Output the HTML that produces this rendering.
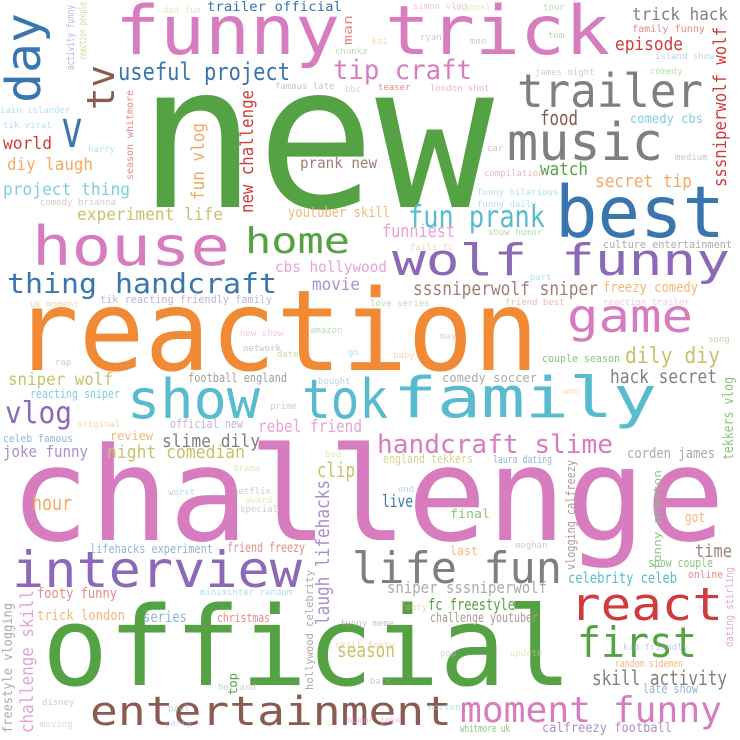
<!DOCTYPE html>
<html><head><meta charset="utf-8">
<style>
html,body{margin:0;padding:0;background:#fff;}
svg{display:block;}
text{font-family:"DejaVu Sans Mono","Liberation Mono",monospace;}
</style></head>
<body>
<svg width="740" height="740" viewBox="0 0 740 740">
<rect width="740" height="740" fill="#fff"/>
<g>
<!-- large words -->
<text x="138" y="207" font-size="200" fill="#55a244" textLength="356" lengthAdjust="spacingAndGlyphs">new</text>
<text x="10" y="540" font-size="130" fill="#d77dbf" textLength="715" lengthAdjust="spacingAndGlyphs">challenge</text>
<text x="42" y="685" font-size="110" fill="#55a244" textLength="530" lengthAdjust="spacingAndGlyphs">official</text>
<text x="13" y="370" font-size="112" fill="#f08a35" textLength="526" lengthAdjust="spacingAndGlyphs">reaction</text>
<text x="115" y="54" font-size="68" fill="#d77dbf" textLength="495" lengthAdjust="spacingAndGlyphs">funny trick</text>
<text x="555" y="237" font-size="71" fill="#3a75b0" textLength="170" lengthAdjust="spacingAndGlyphs">best</text>
<text x="393" y="417" font-size="56" fill="#58bbd0" textLength="264" lengthAdjust="spacingAndGlyphs">family</text>
<text x="32" y="265" font-size="54" fill="#d77dbf" textLength="198" lengthAdjust="spacingAndGlyphs">house</text>
<text x="392" y="275" font-size="44" fill="#8c68b8" textLength="338" lengthAdjust="spacingAndGlyphs">wolf funny</text>
<text x="127" y="418" font-size="54" fill="#58bbd0" textLength="133" lengthAdjust="spacingAndGlyphs">show</text>
<text x="302" y="418" font-size="54" fill="#58bbd0" textLength="86" lengthAdjust="spacingAndGlyphs">tok</text>
<text x="12" y="587" font-size="50" fill="#8c68b8" textLength="290" lengthAdjust="spacingAndGlyphs">interview</text>
<text x="570" y="620" font-size="45" fill="#d13b3b" textLength="153" lengthAdjust="spacingAndGlyphs">react</text>
<text x="90" y="725" font-size="40" fill="#8b5a50" textLength="362" lengthAdjust="spacingAndGlyphs">entertainment</text>
<text x="507" y="160" font-size="52" fill="#7f7f7f" textLength="156" lengthAdjust="spacingAndGlyphs">music</text>
<text x="517" y="107" font-size="46" fill="#7f7f7f" textLength="186" lengthAdjust="spacingAndGlyphs">trailer</text>
<text x="245" y="253" font-size="36" fill="#55a244" textLength="105" lengthAdjust="spacingAndGlyphs">home</text>
<text x="567" y="332" font-size="46" fill="#d77dbf" textLength="126" lengthAdjust="spacingAndGlyphs">game</text>
<text x="352" y="583" font-size="44" fill="#7f7f7f" textLength="210" lengthAdjust="spacingAndGlyphs">life fun</text>
<text x="577" y="657" font-size="42" fill="#55a244" textLength="120" lengthAdjust="spacingAndGlyphs">first</text>
<text x="460" y="722" font-size="36" fill="#d77dbf" textLength="262" lengthAdjust="spacingAndGlyphs">moment funny</text>
<text x="7" y="293" font-size="28" fill="#3a75b0" textLength="270" lengthAdjust="spacingAndGlyphs">thing handcraft</text>
<text x="377" y="453" font-size="26" fill="#d77dbf" textLength="236" lengthAdjust="spacingAndGlyphs">handcraft slime</text>
<text x="333" y="79" font-size="27" fill="#d77dbf" textLength="139" lengthAdjust="spacingAndGlyphs">tip craft</text>
<text x="118" y="80" font-size="24" fill="#3a75b0" textLength="172" lengthAdjust="spacingAndGlyphs">useful project</text>
<text x="408" y="227" font-size="30" fill="#58bbd0" textLength="137" lengthAdjust="spacingAndGlyphs">fun prank</text>
<text x="5" y="423" font-size="30" fill="#8c68b8" textLength="67" lengthAdjust="spacingAndGlyphs">vlog</text>
<text x="625" y="363" font-size="22" fill="#c5c36c" textLength="95" lengthAdjust="spacingAndGlyphs">dily diy</text>
<text x="8" y="385" font-size="17" fill="#c5c36c" textLength="105" lengthAdjust="spacingAndGlyphs">sniper wolf</text>
<text x="615" y="50" font-size="18" fill="#d13b3b" textLength="68" lengthAdjust="spacingAndGlyphs">episode</text>
<text x="632" y="20" font-size="17" fill="#7f7f7f" textLength="96" lengthAdjust="spacingAndGlyphs">trick hack</text>
<text x="77" y="220" font-size="17" fill="#c5c36c" textLength="146" lengthAdjust="spacingAndGlyphs">experiment life</text>
<text x="3" y="149" font-size="17" fill="#d13b3b" textLength="49" lengthAdjust="spacingAndGlyphs">world</text>
<text x="7" y="170" font-size="17" fill="#f4a866" textLength="86" lengthAdjust="spacingAndGlyphs">diy laugh</text>
<text x="3" y="195" font-size="17" fill="#7fcde0" textLength="127" lengthAdjust="spacingAndGlyphs">project thing</text>
<text x="300" y="168" font-size="15" fill="#9e7f78" textLength="77" lengthAdjust="spacingAndGlyphs">prank new</text>
<text x="288" y="217" font-size="14" fill="#f6b77a" textLength="102" lengthAdjust="spacingAndGlyphs">youtuber skill</text>
<text x="275" y="272" font-size="15" fill="#e6a3d4" textLength="112" lengthAdjust="spacingAndGlyphs">cbs hollywood</text>
<text x="312" y="290" font-size="17" fill="#a98fcc" textLength="48" lengthAdjust="spacingAndGlyphs">movie</text>
<text x="540" y="125" font-size="20" fill="#8b5a50" textLength="38" lengthAdjust="spacingAndGlyphs">food</text>
<text x="630" y="123" font-size="13" fill="#7fcde0" textLength="73" lengthAdjust="spacingAndGlyphs">comedy cbs</text>
<text x="540" y="175" font-size="18" fill="#55a244" textLength="48" lengthAdjust="spacingAndGlyphs">watch</text>
<text x="595" y="187" font-size="18" fill="#f4a866" textLength="97" lengthAdjust="spacingAndGlyphs">secret tip</text>
<text x="382" y="237" font-size="18" fill="#e6a3d4" textLength="73" lengthAdjust="spacingAndGlyphs">funniest</text>
<text x="413" y="295" font-size="19" fill="#9e7f78" textLength="185" lengthAdjust="spacingAndGlyphs">sssniperwolf sniper</text>
<text x="603" y="292" font-size="14" fill="#f6b77a" textLength="95" lengthAdjust="spacingAndGlyphs">freezy comedy</text>
<text x="610" y="383" font-size="19" fill="#7f7f7f" textLength="107" lengthAdjust="spacingAndGlyphs">hack secret</text>
<text x="442" y="382" font-size="12" fill="#aaaaaa" textLength="95" lengthAdjust="spacingAndGlyphs">comedy soccer</text>
<text x="188" y="382" font-size="12" fill="#9e9e9e" textLength="99" lengthAdjust="spacingAndGlyphs">football england</text>
<text x="30" y="398" font-size="12" fill="#7fcde0" textLength="90" lengthAdjust="spacingAndGlyphs">reacting sniper</text>
<text x="258" y="432" font-size="17" fill="#e6a3d4" textLength="104" lengthAdjust="spacingAndGlyphs">rebel friend</text>
<text x="162" y="447" font-size="18" fill="#7f7f7f" textLength="98" lengthAdjust="spacingAndGlyphs">slime dily</text>
<text x="107" y="458" font-size="18" fill="#c5c36c" textLength="138" lengthAdjust="spacingAndGlyphs">night comedian</text>
<text x="3" y="457" font-size="16" fill="#a98fcc" textLength="85" lengthAdjust="spacingAndGlyphs">joke funny</text>
<text x="110" y="440" font-size="12" fill="#f6b77a" textLength="43" lengthAdjust="spacingAndGlyphs">review</text>
<text x="3" y="442" font-size="11" fill="#8fb5d8" textLength="70" lengthAdjust="spacingAndGlyphs">celeb famous</text>
<text x="170" y="428" font-size="12" fill="#c2b3dd" textLength="73" lengthAdjust="spacingAndGlyphs">official new</text>
<text x="317" y="477" font-size="20" fill="#c5c36c" textLength="38" lengthAdjust="spacingAndGlyphs">clip</text>
<text x="32" y="510" font-size="20" fill="#f4a866" textLength="40" lengthAdjust="spacingAndGlyphs">hour</text>
<text x="90" y="553" font-size="12" fill="#8fb5d8" textLength="123" lengthAdjust="spacingAndGlyphs">lifehacks experiment</text>
<text x="227" y="552" font-size="13" fill="#e58a8a" textLength="78" lengthAdjust="spacingAndGlyphs">friend freezy</text>
<text x="37" y="598" font-size="14" fill="#e58a8a" textLength="80" lengthAdjust="spacingAndGlyphs">footy funny</text>
<text x="37" y="620" font-size="14" fill="#f6b77a" textLength="88" lengthAdjust="spacingAndGlyphs">trick london</text>
<text x="143" y="622" font-size="15" fill="#8fb5d8" textLength="44" lengthAdjust="spacingAndGlyphs">series</text>
<text x="217" y="622" font-size="12" fill="#e58a8a" textLength="53" lengthAdjust="spacingAndGlyphs">christmas</text>
<text x="337" y="657" font-size="20" fill="#c5c36c" textLength="58" lengthAdjust="spacingAndGlyphs">season</text>
<text x="627" y="458" font-size="14" fill="#aaaaaa" textLength="88" lengthAdjust="spacingAndGlyphs">corden james</text>
<text x="383" y="463" font-size="12" fill="#d6d48f" textLength="90" lengthAdjust="spacingAndGlyphs">england tekkers</text>
<text x="493" y="463" font-size="11" fill="#8fb5d8" textLength="59" lengthAdjust="spacingAndGlyphs">laura dating</text>
<text x="382" y="507" font-size="17" fill="#3a75b0" textLength="31" lengthAdjust="spacingAndGlyphs">live</text>
<text x="450" y="518" font-size="12" fill="#8cc47e" textLength="40" lengthAdjust="spacingAndGlyphs">final</text>
<text x="685" y="522" font-size="14" fill="#f6b77a" textLength="20" lengthAdjust="spacingAndGlyphs">got</text>
<text x="695" y="557" font-size="18" fill="#9e7f78" textLength="37" lengthAdjust="spacingAndGlyphs">time</text>
<text x="450" y="555" font-size="12" fill="#f6b77a" textLength="28" lengthAdjust="spacingAndGlyphs">last</text>
<text x="648" y="567" font-size="12" fill="#8cc47e" textLength="65" lengthAdjust="spacingAndGlyphs">show couple</text>
<text x="568" y="583" font-size="15" fill="#58bbd0" textLength="109" lengthAdjust="spacingAndGlyphs">celebrity celeb</text>
<text x="688" y="578" font-size="11" fill="#e58a8a" textLength="35" lengthAdjust="spacingAndGlyphs">online</text>
<text x="387" y="593" font-size="16" fill="#aaaaaa" textLength="160" lengthAdjust="spacingAndGlyphs">sniper sssniperwolf</text>
<text x="428" y="610" font-size="16" fill="#55a244" textLength="87" lengthAdjust="spacingAndGlyphs">fc freestyle</text>
<text x="430" y="622" font-size="13" fill="#aa9a96" textLength="108" lengthAdjust="spacingAndGlyphs">challenge youtuber</text>
<text x="615" y="667" font-size="11" fill="#f6b77a" textLength="68" lengthAdjust="spacingAndGlyphs">random sidemen</text>
<text x="592" y="685" font-size="20" fill="#7f7f7f" textLength="135" lengthAdjust="spacingAndGlyphs">skill activity</text>
<text x="643" y="693" font-size="12" fill="#8fb5d8" textLength="55" lengthAdjust="spacingAndGlyphs">late show</text>
<text x="460" y="732" font-size="11" fill="#8cc47e" textLength="50" lengthAdjust="spacingAndGlyphs">whitmore uk</text>
<text x="542" y="732" font-size="13" fill="#a98fcc" textLength="130" lengthAdjust="spacingAndGlyphs">calfreezy football</text>
<text x="207" y="11" font-size="13" fill="#3a75b0" textLength="135" lengthAdjust="spacingAndGlyphs">trailer official</text>
<text x="632" y="32" font-size="10" fill="#e58a8a" textLength="73" lengthAdjust="spacingAndGlyphs">family funny</text>
<text x="603" y="248" font-size="11" fill="#aaaaaa" textLength="129" lengthAdjust="spacingAndGlyphs">culture entertainment</text>
<text x="542" y="362" font-size="11" fill="#8cc47e" textLength="78" lengthAdjust="spacingAndGlyphs">couple season</text>
<text x="100" y="303" font-size="11" fill="#c2b3dd" textLength="172" lengthAdjust="spacingAndGlyphs">tik reacting friendly family</text>
<!-- vertical words -->
<text transform="translate(40,103) rotate(-90)" font-size="48" fill="#3a75b0" textLength="90" lengthAdjust="spacingAndGlyphs">day</text>
<text transform="translate(114,110) rotate(-90)" font-size="38" fill="#8b5a50" textLength="45" lengthAdjust="spacingAndGlyphs">tv</text>
<text x="61" y="147" font-size="52" fill="#3a75b0" textLength="22" lengthAdjust="spacingAndGlyphs">v</text>
<text transform="translate(726,187) rotate(-90)" font-size="18" fill="#d13b3b" textLength="160" lengthAdjust="spacingAndGlyphs">sssniperwolf wolf</text>
<text transform="translate(253,213) rotate(-90)" font-size="18" fill="#d13b3b" textLength="123" lengthAdjust="spacingAndGlyphs">new challenge</text>
<text transform="translate(204,200) rotate(-90)" font-size="18" fill="#f4a866" textLength="77" lengthAdjust="spacingAndGlyphs">fun vlog</text>
<text transform="translate(329,625) rotate(-90)" font-size="19" fill="#a98fcc" textLength="145" lengthAdjust="spacingAndGlyphs">laugh lifehacks</text>
<text transform="translate(33,733) rotate(-90)" font-size="18" fill="#e6a3d4" textLength="143" lengthAdjust="spacingAndGlyphs">challenge skill</text>
<text transform="translate(12,733) rotate(-90)" font-size="13" fill="#aaaaaa" textLength="130" lengthAdjust="spacingAndGlyphs">freestyle vlogging</text>
<text transform="translate(733,460) rotate(-90)" font-size="14" fill="#8cc47e" textLength="83" lengthAdjust="spacingAndGlyphs">tekkers vlog</text>
<text transform="translate(313,690) rotate(-90)" font-size="11" fill="#aaaaaa" textLength="120" lengthAdjust="spacingAndGlyphs">hollywood celebrity</text>
<text transform="translate(575,570) rotate(-90)" font-size="12" fill="#aa9a96" textLength="110" lengthAdjust="spacingAndGlyphs">vlogging calfreezy</text>
<text transform="translate(661,570) rotate(-90)" font-size="11" fill="#8cc47e" textLength="100" lengthAdjust="spacingAndGlyphs">funny preston</text>
<text transform="translate(733,647) rotate(-90)" font-size="11" fill="#e6a3d4" textLength="80" lengthAdjust="spacingAndGlyphs">dating stirling</text>
<text transform="translate(322,168) rotate(-90)" font-size="11" fill="#f6b77a" textLength="0"></text>
<text transform="translate(74,70) rotate(-90)" font-size="11" fill="#c2b3dd" textLength="65" lengthAdjust="spacingAndGlyphs">activity funny</text>
<text transform="translate(86,60) rotate(-90)" font-size="10" fill="#d6d48f" textLength="58" lengthAdjust="spacingAndGlyphs">reaction people</text>
<text transform="translate(352,45) rotate(-90)" font-size="12" fill="#e58a8a" textLength="30" lengthAdjust="spacingAndGlyphs">man</text>
<text transform="translate(133,180) rotate(-90)" font-size="10" fill="#e58a8a" textLength="90" lengthAdjust="spacingAndGlyphs">season whitmore</text>
<text transform="translate(237,695) rotate(-90)" font-size="12" fill="#55a244" textLength="22" lengthAdjust="spacingAndGlyphs">top</text>
<!-- faint small words -->
<g font-size="9" opacity="0.6">
<text x="163" y="13" fill="#d6d48f">dad fun</text>
<text x="413" y="9" fill="#e6a3d4">simon vlog</text>
<text x="453" y="10" fill="#d6d48f">channel</text>
<text x="543" y="10" fill="#8cc47e">tour</text>
<text x="420" y="40" fill="#aaaaaa">ryan</text>
<text x="470" y="44" fill="#aaaaaa">mon</text>
<text x="372" y="44" fill="#f6b77a">ksi</text>
<text x="548" y="38" fill="#8cc47e">tom</text>
<text x="335" y="54" fill="#8cc47e">chunkz</text>
<text x="275" y="89" fill="#aa9a96">famous late</text>
<text x="345" y="92" fill="#c2b3dd">bbc</text>
<text x="378" y="90" fill="#d13b3b">teaser</text>
<text x="430" y="91" fill="#e58a8a">london shot</text>
<text x="535" y="75" fill="#aaaaaa">james night</text>
<text x="650" y="74" fill="#8cc47e">comedy</text>
<text x="655" y="59" fill="#8fb5d8">island show</text>
<text x="0" y="113" fill="#7fcde0">iain islander</text>
<text x="3" y="128" fill="#7fcde0">tik viral</text>
<text x="88" y="152" fill="#7fcde0">harry</text>
<text x="40" y="205" fill="#aaaaaa">comedy brianna</text>
<text x="487" y="151" fill="#e58a8a">car</text>
<text x="675" y="160" fill="#aa9a96">medium</text>
<text x="484" y="176" fill="#e58a8a">compilation</text>
<text x="477" y="195" fill="#7fcde0">funny hilarious</text>
<text x="477" y="207" fill="#7fcde0">funny daily</text>
<text x="488" y="235" fill="#8cc47e">show humor</text>
<text x="410" y="250" fill="#f6b77a">fails fc</text>
<text x="530" y="280" fill="#7fcde0">part</text>
<text x="370" y="306" fill="#8cc47e">love series</text>
<text x="505" y="305" fill="#e58a8a">friend best</text>
<text x="603" y="305" fill="#e6a3d4">reaction trailer</text>
<text x="30" y="307" fill="#f6b77a">uk moment</text>
<text x="240" y="336" fill="#e6a3d4">new show</text>
<text x="310" y="333" fill="#8cc47e">amazon</text>
<text x="243" y="351" fill="#aa9a96">network</text>
<text x="277" y="357" fill="#8cc47e">date</text>
<text x="348" y="355" fill="#7fcde0">go</text>
<text x="393" y="358" fill="#f6b77a">baby</text>
<text x="440" y="339" fill="#c2b3dd">may</text>
<text x="55" y="365" fill="#aaaaaa">rap</text>
<text x="708" y="342" fill="#8cc47e">song</text>
<text x="318" y="384" fill="#8fb5d8">bought</text>
<text x="270" y="409" fill="#aaaaaa">prime</text>
<text x="77" y="427" fill="#f6b77a">original</text>
<text x="563" y="394" fill="#f6b77a">won</text>
<text x="325" y="457" fill="#d6d48f">bad</text>
<text x="233" y="471" fill="#d6d48f">drama</text>
<text x="233" y="494" fill="#aaaaaa">netflix</text>
<text x="245" y="503" fill="#d6d48f">award</text>
<text x="240" y="512" fill="#aaaaaa">special</text>
<text x="168" y="495" fill="#8fb5d8">worst</text>
<text x="398" y="492" fill="#8fb5d8">end</text>
<text x="515" y="548" fill="#aaaaaa">meghan</text>
<text x="200" y="595" fill="#7fcde0">miniminter random</text>
<text x="340" y="626" fill="#aa9a96">funny meme</text>
<text x="335" y="648" fill="#f6b77a">skill footy</text>
<text x="440" y="656" fill="#c2b3dd">pop</text>
<text x="510" y="656" fill="#d6d48f">update</text>
<text x="623" y="650" fill="#8fb5d8">kid friendly</text>
<text x="370" y="684" fill="#aaaaaa">back</text>
<text x="218" y="690" fill="#aaaaaa">holland</text>
<text x="168" y="711" fill="#8fb5d8">paul</text>
<text x="165" y="726" fill="#c2b3dd">party</text>
<text x="428" y="710" fill="#7fcde0">norton</text>
<text x="347" y="723" fill="#e6a3d4">humor joke</text>
<text x="42" y="705" fill="#8cc47e">disney</text>
<text x="40" y="727" fill="#c2b3dd">moving</text>
<text x="400" y="610" fill="#f6b77a">footy</text>
</g>
</g>
</svg>
</body></html>
